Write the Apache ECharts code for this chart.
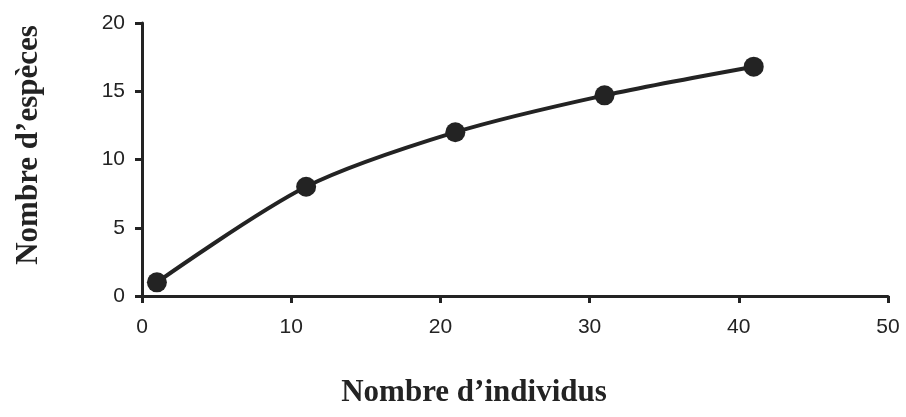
<!DOCTYPE html>
<html>
<head>
<meta charset="utf-8">
<script src="https://cdn.jsdelivr.net/npm/echarts@6/dist/echarts.min.js"></script>
<style>
  html, body { margin: 0; padding: 0; background: #fff; }
  #chart { width: 906px; height: 417px; }
</style>
</head>
<body>
<div id="chart"></div>
<script>
// Species accumulation: number of species vs number of individuals sampled
const individus = [1, 11, 21, 31, 41];
const especes = [1, 8, 12, 14.7, 16.8];
const xTicks = [0, 10, 20, 30, 40, 50];
const yTicks = [0, 5, 10, 15, 20];
const xTitle = 'Nombre d\u2019individus';
const yTitle = 'Nombre d\u2019esp\u00e8ces';

const ink = '#232323';
const titleFont = 'bold 31px "Liberation Serif", "DejaVu Serif", serif';
const chart = echarts.init(document.getElementById('chart'));

chart.setOption({
  animation: false,
  backgroundColor: '#ffffff',
  grid: { left: 142, right: 18, top: 23, bottom: 121 },
  xAxis: {
    type: 'value',
    min: xTicks[0],
    max: xTicks[xTicks.length - 1],
    interval: 10,
    axisLine: { lineStyle: { color: ink, width: 3 } },
    axisTick: { show: true, length: 7, lineStyle: { color: ink, width: 3 } },
    axisLabel: { fontFamily: 'Liberation Sans', fontSize: 21, color: ink, margin: 21 },
    splitLine: { show: false }
  },
  yAxis: {
    type: 'value',
    min: yTicks[0],
    max: yTicks[yTicks.length - 1],
    interval: 5,
    axisLine: { show: true, lineStyle: { color: ink, width: 3 } },
    axisTick: { show: true, length: 7, lineStyle: { color: ink, width: 3 } },
    axisLabel: { fontFamily: 'Liberation Sans', fontSize: 21, color: ink, margin: 17 },
    splitLine: { show: false }
  },
  graphic: [
    {
      type: 'text',
      x: 474, y: 393,
      style: { text: xTitle, font: titleFont, fill: ink, align: 'center', verticalAlign: 'middle' }
    },
    {
      type: 'text',
      x: 29, y: 145,
      rotation: Math.PI / 2,
      style: { text: yTitle, font: titleFont, fill: ink, align: 'center', verticalAlign: 'middle' }
    }
  ],
  series: [{
    type: 'line',
    data: individus.map((x, i) => [x, especes[i]]),
    smooth: 0.3,
    symbol: 'circle',
    symbolSize: 20,
    lineStyle: { color: ink, width: 4 },
    itemStyle: { color: ink, borderWidth: 0 }
  }]
});
</script>
</body>
</html>
